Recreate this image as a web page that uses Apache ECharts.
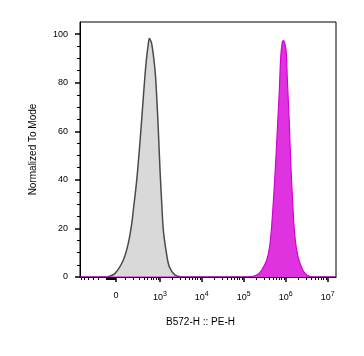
<!DOCTYPE html>
<html><head><meta charset="utf-8">
<script src="https://cdn.jsdelivr.net/npm/echarts@6/dist/echarts.min.js"></script>
<style>html,body{margin:0;padding:0;background:#fff}#c{width:364px;height:356px}</style>
</head><body><div id="c"></div>
<script>
// Control (grey) histogram: fluorescence value -> % of mode
const isoX = [-93, -10, 75, 132, 177, 200, 254, 317, 386, 454, 519, 551, 631, 762, 838, 916, 1007, 1107, 1210, 1405, 1686, 2310, 3336];
const isoY = [0, 1.5, 7, 13.9, 22, 27.6, 40, 56.4, 74, 88, 96, 98.2, 96, 85, 74, 60.5, 44, 30.4, 19.3, 11, 4.2, 0.8, 0];
// Stained (magenta) histogram
const peX = [118000, 204000, 268000, 352000, 422000, 479000, 556000, 630000, 703000, 759000, 829000, 876000, 925000, 1016000, 1091000, 1217000, 1315000, 1466000, 1600000, 1825000, 2190000, 2880000, 4540000];
const peY = [0, 0.8, 2.9, 7, 13.9, 24.8, 42.7, 60.5, 77, 90.7, 96.8, 97.3, 96.8, 93.4, 81, 63, 46.8, 30.3, 19.3, 11, 5.6, 1.5, 0];
// Axis ranges and ticks
const xMin = -643, xMax = 15700000;
const xMajor = [0, 1e3, 1e4, 1e5, 1e6, 1e7];
const xMajorLabels = ['0', '10|3', '10|4', '10|5', '10|6', '10|7'];
const xMinorNeg = [-600, -500, -400, -300, -200, -100, -90, -80, -70, -60, -50, -40, -30, -20, -10];
const xMinorPos = [100, 200, 300, 400, 500, 600, 700, 800, 900];
const yMajor = [0, 20, 40, 60, 80, 100];
const yMinor = [5, 10, 15, 25, 30, 35, 45, 50, 55, 65, 70, 75, 85, 90, 95];
const yMax = 105;
const xTitle = 'B572-H :: PE-H';
const yTitle = 'Normalized To Mode';

// biexponential-like display transform (arcsinh)
const W = 182;
const T = v => Math.asinh(v / W);

const xMinor = xMinorNeg.concat(xMinorPos);
for (let d = 3; d <= 6; d++) for (let m = 2; m <= 9; m++) xMinor.push(m * Math.pow(10, d));
const xMinorT = xMinor.map(T).filter(t => t >= T(xMin) && t <= T(xMax));
const xMajorT = xMajor.map(T);

const FONT = '"Liberation Sans", Arial, sans-serif';
const chart = echarts.init(document.getElementById('c'), null, {renderer: 'canvas'});

function labelFor(val) {
  let best = 0, bd = Infinity;
  xMajorT.forEach((t, i) => { const d = Math.abs(t - val); if (d < bd) { bd = d; best = i; } });
  const s = xMajorLabels[best].split('|');
  return s.length > 1 ? '{b|' + s[0] + '}{s|' + s[1] + '}' : '{b|' + s[0] + '}';
}

const isoData = isoX.map((x, i) => [T(x), isoY[i]]);
const peData = [[T(xMin), 0]].concat(peX.map((x, i) => [T(x), peY[i]])).concat([[T(xMax), 0]]);

chart.setOption({
  animation: false,
  backgroundColor: '#fff',
  grid: {left: 80, right: 28, top: 22, bottom: 79, show: true, borderColor: '#000', borderWidth: 1, backgroundColor: 'transparent'},
  xAxis: [
    {type: 'value', min: T(xMin), max: T(xMax), position: 'bottom',
     name: xTitle, nameLocation: 'middle', nameGap: 40,
     nameTextStyle: {fontFamily: FONT, fontSize: 10, color: '#000', padding: [0, 15, 0, 0]},
     axisLine: {show: true, onZero: false, lineStyle: {color: '#000', width: 1}},
     axisTick: {show: true, customValues: xMajorT, length: 5, lineStyle: {color: '#000', width: 1.5}},
     axisLabel: {show: true, customValues: xMajorT, margin: 14, formatter: labelFor,
       rich: {b: {fontFamily: FONT, fontSize: 9, color: '#000'}, s: {fontFamily: FONT, fontSize: 7, color: '#000', verticalAlign: 'top', padding: [0, 0, 7, 0]}}},
     splitLine: {show: false}},
    {type: 'value', min: T(xMin), max: T(xMax), position: 'bottom',
     axisLine: {show: false, onZero: false},
     axisTick: {show: true, customValues: xMinorT, length: 3, lineStyle: {color: '#000', width: 1}},
     axisLabel: {show: false}, splitLine: {show: false}}
  ],
  yAxis: [
    {type: 'value', min: 0, max: yMax, position: 'left',
     name: yTitle, nameLocation: 'middle', nameGap: 42,
     nameTextStyle: {fontFamily: FONT, fontSize: 10, color: '#000'},
     axisLine: {show: true, onZero: false, lineStyle: {color: '#000', width: 1}},
     axisTick: {show: true, customValues: yMajor, length: 5, lineStyle: {color: '#000', width: 1.5}},
     axisLabel: {show: true, customValues: yMajor, margin: 12, fontFamily: FONT, fontSize: 9, color: '#000'},
     splitLine: {show: false}},
    {type: 'value', min: 0, max: yMax, position: 'left',
     axisLine: {show: false, onZero: false},
     axisTick: {show: true, customValues: yMinor, length: 3, lineStyle: {color: '#000', width: 1}},
     axisLabel: {show: false}, splitLine: {show: false}}
  ],
  series: [
    {type: 'line', xAxisIndex: 0, yAxisIndex: 0, data: isoData, smooth: 0.35, symbol: 'none',
     lineStyle: {color: '#4a4a4a', width: 1.5}, areaStyle: {color: '#d9d9d9', opacity: 1}, z: 2},
    {type: 'line', xAxisIndex: 0, yAxisIndex: 0, data: peData, smooth: 0.35, symbol: 'none',
     lineStyle: {color: '#d400d4', width: 1.2}, areaStyle: {color: '#e033e0', opacity: 1}, z: 3}
  ]
});
</script>
</body></html>
